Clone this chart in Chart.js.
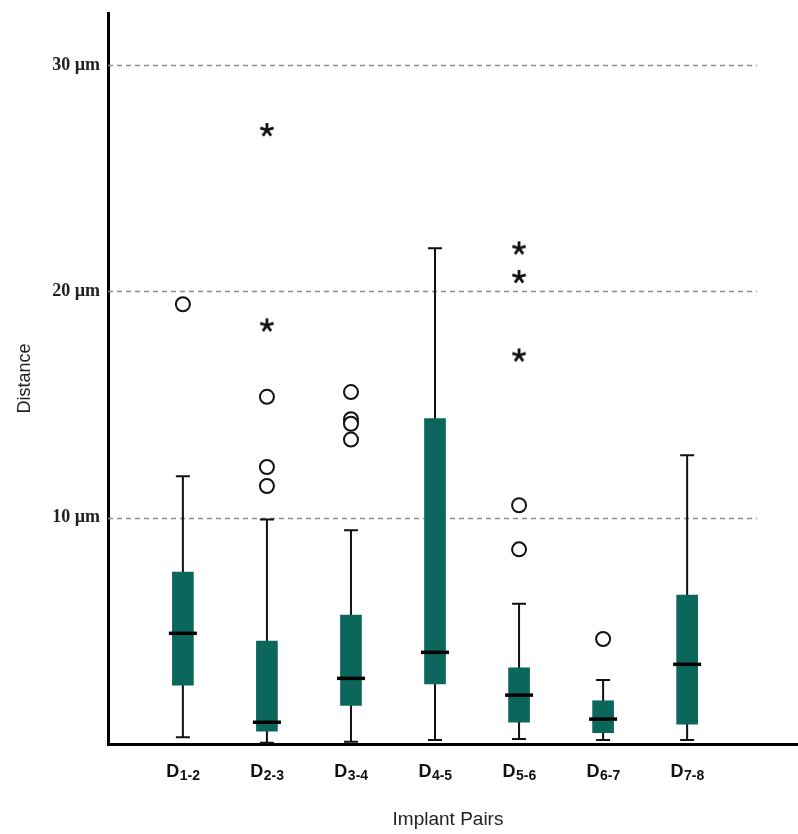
<!DOCTYPE html>
<html>
<head>
<meta charset="utf-8">
<script src="https://cdn.jsdelivr.net/npm/chart.js@4.4.1/dist/chart.umd.min.js"></script>
<style>
  body { margin: 0; background: #fff; }
  canvas { display: block; }
</style>
</head>
<body>
<canvas id="box" width="798" height="834"></canvas>
<script>
// implant pair distances (µm)
var categories = ['D1-2', 'D2-3', 'D3-4', 'D4-5', 'D5-6', 'D6-7', 'D7-8'];
var whiskerLow = [0.3, 0.06, 0.1, 0.18, 0.22, 0.18, 0.18];
var q1 = [2.6, 0.57, 1.7, 2.65, 0.96, 0.5, 0.88];
var median = [4.89, 0.96, 2.9, 4.05, 2.16, 1.1, 3.52];
var q3 = [7.6, 4.55, 5.7, 14.38, 3.37, 1.91, 6.58];
var whiskerHigh = [11.83, 9.92, 9.45, 21.9, 6.2, 2.83, 12.76];
var outliers = [[19.43], [15.34, 12.24, 11.4], [15.55, 14.35, 14.15, 13.45], [], [10.55, 8.6], [4.64], []];
var extremes = [[], [27.13, 18.5], [], [], [21.9, 20.64, 17.17], [], []];
var yTicks = [10, 20, 30];

var teal = '#0b665c';

// asterisk marker for extreme values
function makeStar() {
    var c = document.createElement('canvas');
    c.width = 18; c.height = 18;
    var g = c.getContext('2d');
    g.strokeStyle = '#111';
    g.lineWidth = 2.8;
    g.lineCap = 'butt';
    for (var k = 0; k < 5; k++) {
        var a = (-90 + k * 72) * Math.PI / 180;
        g.beginPath();
        g.moveTo(9, 9);
        g.lineTo(9 + Math.cos(a) * 7, 9 + Math.sin(a) * 7);
        g.stroke();
    }
    return c;
}

// drop the extra edge padding chart.js reserves for tick labels
function noPad(s) {
    s.paddingTop = 0; s.paddingBottom = 0; s.paddingLeft = 0; s.paddingRight = 0;
}

var boxData = categories.map(function(c, i) { return { x: i + 1, y: [q1[i], q3[i]] }; });
var circlePts = [];
var starPts = [];
outliers.forEach(function(list, i) { list.forEach(function(v) { circlePts.push({ x: i + 1, y: v }); }); });
extremes.forEach(function(list, i) { list.forEach(function(v) { starPts.push({ x: i + 1, y: v }); }); });

var boxPlugin = {
    id: 'boxParts',
    beforeDatasetsDraw: function(chart) {
        var c = chart.ctx, xs = chart.scales.x, ys = chart.scales.y;
        // dashed reference lines
        c.save();
        c.strokeStyle = '#8a8a8a';
        c.lineWidth = 1.5;
        c.setLineDash([5, 4]);
        var x0 = chart.chartArea.left, x1 = xs.getPixelForValue(7.83);
        yTicks.forEach(function(t) {
            var y = Math.round(ys.getPixelForValue(t)) + 0.5;
            c.beginPath(); c.moveTo(x0, y); c.lineTo(x1, y); c.stroke();
        });
        c.restore();
        // whiskers
        c.save();
        c.strokeStyle = '#111';
        c.lineWidth = 2;
        categories.forEach(function(cat, i) {
            var x = xs.getPixelForValue(i + 1);
            var yl = ys.getPixelForValue(whiskerLow[i]), yh = ys.getPixelForValue(whiskerHigh[i]);
            c.beginPath();
            c.moveTo(x, yh); c.lineTo(x, yl);
            c.moveTo(x - 7, yh); c.lineTo(x + 7, yh);
            c.moveTo(x - 7, yl); c.lineTo(x + 7, yl);
            c.stroke();
        });
        c.restore();
    },
    afterDatasetsDraw: function(chart) {
        var c = chart.ctx, xs = chart.scales.x, ys = chart.scales.y;
        c.save();
        c.strokeStyle = '#000';
        c.lineWidth = 3.5;
        categories.forEach(function(cat, i) {
            var x = xs.getPixelForValue(i + 1), y = ys.getPixelForValue(median[i]);
            c.beginPath(); c.moveTo(x - 14, y); c.lineTo(x + 14, y); c.stroke();
        });
        // run the x axis line on to the right edge
        var yb = Math.round(xs.top - 1.5) + 1.5;
        c.lineWidth = 3;
        c.beginPath(); c.moveTo(chart.chartArea.right - 2, yb); c.lineTo(chart.width, yb); c.stroke();
        // category labels with subscripts
        c.fillStyle = '#111';
        c.textBaseline = 'alphabetic';
        categories.forEach(function(cat, i) {
            var x = xs.getPixelForValue(i + 1);
            var main = cat.charAt(0), sub = cat.slice(1);
            c.font = 'bold 18px "Liberation Sans", Arial, sans-serif';
            var w1 = c.measureText(main).width;
            c.font = 'bold 14px "Liberation Sans", Arial, sans-serif';
            var w2 = c.measureText(sub).width;
            var start = x - (w1 + w2) / 2;
            c.textAlign = 'left';
            c.font = 'bold 18px "Liberation Sans", Arial, sans-serif';
            c.fillText(main, start, 777);
            c.font = 'bold 14px "Liberation Sans", Arial, sans-serif';
            c.fillText(sub, start + w1 + 0.5, 780);
        });
        c.restore();
    }
};

var ctx = document.getElementById('box').getContext('2d');
var chart = new Chart(ctx, {
    type: 'bar',
    data: {
        datasets: [{
            label: 'IQR',
            data: boxData,
            backgroundColor: teal,
            borderWidth: 0,
            barThickness: 21,
            order: 3
        }, {
            type: 'scatter',
            label: 'Outliers',
            data: circlePts,
            pointStyle: 'circle',
            pointRadius: 7,
            pointBorderWidth: 2,
            pointBorderColor: '#111',
            pointBackgroundColor: '#fff',
            order: 1
        }, {
            type: 'scatter',
            label: 'Extremes',
            data: starPts,
            pointStyle: makeStar(),
            pointRadius: 9,
            order: 1
        }]
    },
    options: {
        responsive: false,
        animation: false,
        layout: { padding: { top: 13, right: 0, left: 0, bottom: 0 } },
        plugins: { legend: { display: false }, tooltip: { enabled: false } },
        scales: {
            x: {
                type: 'linear',
                offset: false,
                min: 0.109,
                max: 8.2,
                grid: { display: false, drawTicks: false },
                border: { color: '#000', width: 3 },
                ticks: { display: false },
                title: {
                    display: true,
                    text: 'Implant Pairs',
                    color: '#222',
                    font: { family: '"Liberation Sans", Arial, sans-serif', size: 19 },
                    padding: { bottom: 3 }
                },
                afterFit: function(s) { s.height = 90; noPad(s); }
            },
            y: {
                min: 0,
                max: 32.3,
                grid: { display: false, drawTicks: false },
                border: { color: '#000', width: 3 },
                afterBuildTicks: function(s) { s.ticks = yTicks.map(function(v) { return { value: v }; }); },
                ticks: {
                    padding: 8,
                    color: '#222',
                    font: { family: '"Liberation Serif", "Times New Roman", serif', size: 18, weight: 'bold' },
                    callback: function(v) { return v + ' µm'; }
                },
                title: {
                    display: true,
                    text: 'Distance',
                    color: '#222',
                    font: { family: '"Liberation Sans", Arial, sans-serif', size: 18 },
                    padding: { top: 14 }
                },
                afterFit: function(s) { s.width = 108; noPad(s); }
            }
        }
    },
    plugins: [boxPlugin]
});
</script>
</body>
</html>
